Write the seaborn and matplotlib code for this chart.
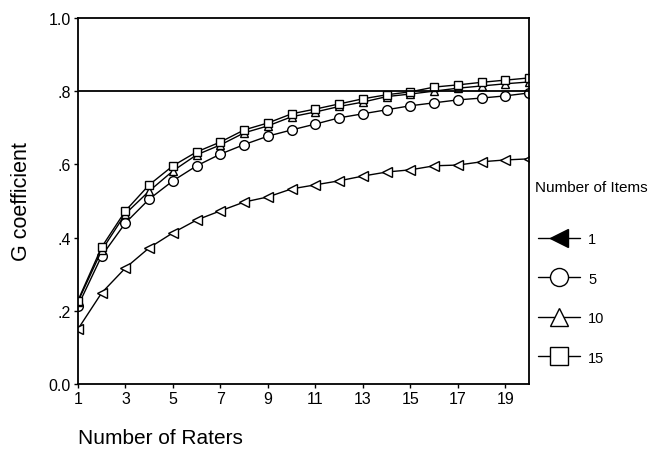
from matplotlib import pyplot as plt
from matplotlib.lines import Line2D
import seaborn as sns

raters = list(range(1, 21))
items = ['1', '5', '10', '15']

g_1 = [0.150, 0.249, 0.317, 0.372, 0.413, 0.448, 0.473, 0.497, 0.511, 0.533,
       0.544, 0.555, 0.568, 0.579, 0.585, 0.596, 0.598, 0.607, 0.612, 0.615]
g_5 = [0.213, 0.350, 0.440, 0.505, 0.555, 0.596, 0.628, 0.654, 0.677, 0.694,
       0.710, 0.727, 0.738, 0.749, 0.760, 0.768, 0.776, 0.781, 0.787, 0.795]
g_10 = [0.225, 0.365, 0.465, 0.527, 0.582, 0.626, 0.653, 0.686, 0.705, 0.730,
        0.743, 0.758, 0.770, 0.785, 0.792, 0.800, 0.808, 0.814, 0.820, 0.825]
g_15 = [0.228, 0.374, 0.473, 0.544, 0.596, 0.634, 0.661, 0.694, 0.713, 0.738,
        0.751, 0.765, 0.779, 0.790, 0.798, 0.811, 0.817, 0.824, 0.830, 0.836]

xticks = list(range(1, 20, 2))
yticks = [0.0, 0.2, 0.4, 0.6, 0.8, 1.0]
ytick_labels = ['0.0', '.2', '.4', '.6', '.8', '1.0']


def plot():
    sns.set_style('ticks')
    plt.rcParams['font.family'] = ['Liberation Sans', 'DejaVu Sans']
    plt.rcParams['text.color'] = 'black'
    plt.rcParams['xtick.color'] = 'black'
    plt.rcParams['ytick.color'] = 'black'
    fig = plt.figure(figsize=(6.55, 4.6), dpi=100)
    ax = fig.add_axes([0.119, 0.163, 0.689, 0.796])

    series = [(g_1, '<', 6.5), (g_5, 'o', 7), (g_10, '^', 6), (g_15, 's', 5.5)]
    for vals, mk, ms in series:
        sns.lineplot(x=raters, y=vals, ax=ax, color='black', linewidth=1,
                     marker=mk, markersize=ms, markerfacecolor='white',
                     markeredgecolor='black', markeredgewidth=1, legend=False)

    ax.axhline(0.8, color='black', linewidth=1.3)
    ax.set_xlim(1, 20)
    ax.set_ylim(0, 1.0)
    ax.set_xticks(xticks)
    ax.set_yticks(yticks)
    ax.set_yticklabels(ytick_labels)
    ax.tick_params(labelsize=11.5, length=3, color='black', labelcolor='black',
                   width=1, pad=2)
    for s in ax.spines.values():
        s.set_color('black')
        s.set_linewidth(1.3)

    ax.set_xlabel('')
    ax.set_ylabel('')
    fig.text(22 / 655, 1 - 202 / 460, 'G coefficient', fontsize=15.5,
             rotation=90, ha='center', va='center', color='black')
    fig.text(78 / 655, 1 - 438 / 460, 'Number of Raters', fontsize=15,
             ha='left', va='center', color='black')

    fig.text(535 / 655, 1 - 188 / 460, 'Number of Items', fontsize=11,
             ha='left', va='center', color='black')
    handles = [
        Line2D([], [], color='black', lw=1, marker='<', markersize=13,
               markerfacecolor='black', markeredgecolor='black'),
        Line2D([], [], color='black', lw=1, marker='o', markersize=13,
               markerfacecolor='white', markeredgecolor='black'),
        Line2D([], [], color='black', lw=1, marker='^', markersize=13,
               markerfacecolor='white', markeredgecolor='black'),
        Line2D([], [], color='black', lw=1, marker='s', markersize=13,
               markerfacecolor='white', markeredgecolor='black'),
    ]
    leg = fig.legend(handles, items, frameon=False, loc='upper left',
                     bbox_to_anchor=(538 / 655, 1 - 233 / 460),
                     fontsize=10.5, labelspacing=1.75, borderpad=0,
                     borderaxespad=0, handlelength=2.9, handletextpad=0.55)
    for t in leg.get_texts():
        t.set_color('black')

    fig.savefig('out.png', dpi=100, facecolor='white')


if __name__ == '__main__':
    plot()
